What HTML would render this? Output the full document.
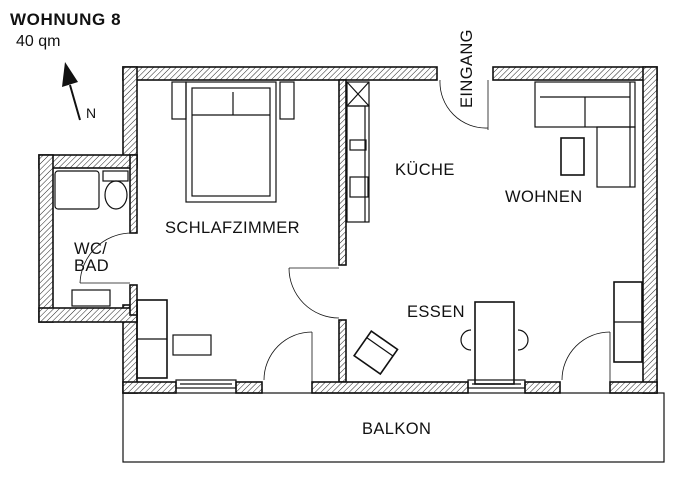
<!DOCTYPE html>
<html><head><style>
html,body{margin:0;padding:0;background:#fff;}
svg{display:block;}
text{font-family:"Liberation Sans",sans-serif;fill:#111;}
</style></head><body>
<svg width="676" height="480" viewBox="0 0 676 480" xmlns="http://www.w3.org/2000/svg">
<defs>
<pattern id="h" patternUnits="userSpaceOnUse" width="4" height="4" patternTransform="rotate(45)">
<rect width="4" height="4" fill="#fff"/><line x1="0" y1="0" x2="0" y2="4" stroke="#222" stroke-width="1"/>
</pattern>
</defs>
<g stroke="#111" stroke-width="1.6" fill="url(#h)">
<rect x="123" y="67" width="314" height="13"/>
<rect x="493" y="67" width="164" height="13"/>
<rect x="123" y="67" width="14" height="93"/>
<rect x="123" y="305" width="14" height="88"/>
<rect x="39" y="155" width="98" height="13"/>
<rect x="39" y="155" width="14" height="167"/>
<rect x="39" y="308" width="98" height="14"/>
<rect x="130" y="155" width="7" height="78"/>
<rect x="130" y="285" width="7" height="30"/>
<rect x="643" y="67" width="14" height="326"/>
<rect x="339" y="80" width="7" height="185"/>
<rect x="339" y="320" width="7" height="62"/>
<rect x="123" y="382" width="53" height="11"/>
<rect x="236" y="382" width="26" height="11"/>
<rect x="312" y="382" width="156" height="11"/>
<rect x="525" y="382" width="35" height="11"/>
<rect x="610" y="382" width="47" height="11"/>
</g>
<g fill="none" stroke="#111" stroke-width="1.2">
<rect x="123" y="393" width="541" height="69"/>
<rect x="176" y="380" width="60" height="8"/><line x1="180" y1="384" x2="232" y2="384"/>
<rect x="468" y="380" width="57" height="8"/><line x1="472" y1="384" x2="521" y2="384"/>
<path d="M312 332 A48 48 0 0 0 264 380" stroke-width="0.8"/><line x1="312" y1="332" x2="312" y2="382" stroke-width="0.8"/>
<path d="M610 332 A48 48 0 0 0 562 380" stroke-width="0.8"/><line x1="610" y1="332" x2="610" y2="382" stroke-width="0.8"/>
<path d="M289 268 A50 50 0 0 0 339 318" stroke-width="0.8"/><line x1="289" y1="268" x2="339" y2="268" stroke-width="0.8"/>
<path d="M130 233 A52 52 0 0 0 80 283" stroke-width="0.8"/><line x1="80" y1="283" x2="130" y2="283" stroke-width="0.8"/>
<path d="M440 80 A46 46 0 0 0 488 128" stroke-width="0.8"/><line x1="488" y1="80" x2="488" y2="130" stroke-width="0.8"/>
<rect x="186" y="82" width="90" height="120"/><rect x="192" y="88" width="78" height="108"/>
<line x1="192" y1="115" x2="270" y2="115"/><line x1="233" y1="92" x2="233" y2="115"/>
<rect x="172" y="82" width="14" height="37"/><rect x="280" y="82" width="14" height="37"/>
<rect x="137" y="300" width="30" height="78" stroke-width="1.6"/><line x1="137" y1="339" x2="167" y2="339"/>
<rect x="173" y="335" width="38" height="20"/>
<rect x="55" y="171" width="44" height="38" rx="3"/><rect x="103" y="171" width="25" height="10"/>
<ellipse cx="116" cy="195" rx="11" ry="14"/>
<rect x="72" y="290" width="38" height="16"/>
<rect x="347" y="82" width="22" height="24"/><line x1="347" y1="82" x2="369" y2="106"/><line x1="369" y1="82" x2="347" y2="106"/>
<rect x="347" y="106" width="22" height="116"/><line x1="365" y1="106" x2="365" y2="222"/>
<rect x="350" y="140" width="16" height="10"/><rect x="350" y="177" width="18" height="20"/>
<rect x="535" y="82" width="100" height="45"/><rect x="597" y="127" width="38" height="60"/>
<line x1="540" y1="97" x2="630" y2="97"/><line x1="585" y1="97" x2="585" y2="127"/><line x1="630" y1="82" x2="630" y2="187"/>
<rect x="561" y="138" width="23" height="37" stroke-width="1.6"/>
<rect x="614" y="282" width="28" height="80" stroke-width="1.6"/><line x1="614" y1="322" x2="642" y2="322"/>
<rect x="475" y="302" width="39" height="82" stroke-width="1.6"/>
<path d="M471 330 A8 8 0 0 0 471 350"/><path d="M518 330 A8 8 0 0 1 518 350"/>
<g transform="rotate(35 375 352)"><rect x="360" y="337" width="32" height="30" stroke-width="1.6"/><line x1="360" y1="345" x2="392" y2="345"/></g>
</g>
<line x1="80" y1="120" x2="70" y2="85" stroke="#111" stroke-width="2"/>
<polygon points="65,62 62,87 78,82" fill="#111"/>
<text x="86" y="118" font-size="14">N</text>
<text x="10" y="25" font-size="17" font-weight="bold" letter-spacing="0.6">WOHNUNG 8</text>
<text x="16" y="46" font-size="16">40 qm</text>
<g font-size="16.5" letter-spacing="0.4">
<text x="165" y="233">SCHLAFZIMMER</text>
<text x="74" y="254">WC/</text>
<text x="74" y="271">BAD</text>
<text x="395" y="175">KÜCHE</text>
<text x="505" y="202">WOHNEN</text>
<text x="407" y="317">ESSEN</text>
<text x="362" y="434">BALKON</text>
<text x="0" y="0" transform="translate(472 108) rotate(-90)">EINGANG</text>
</g>
</svg>
</body></html>
